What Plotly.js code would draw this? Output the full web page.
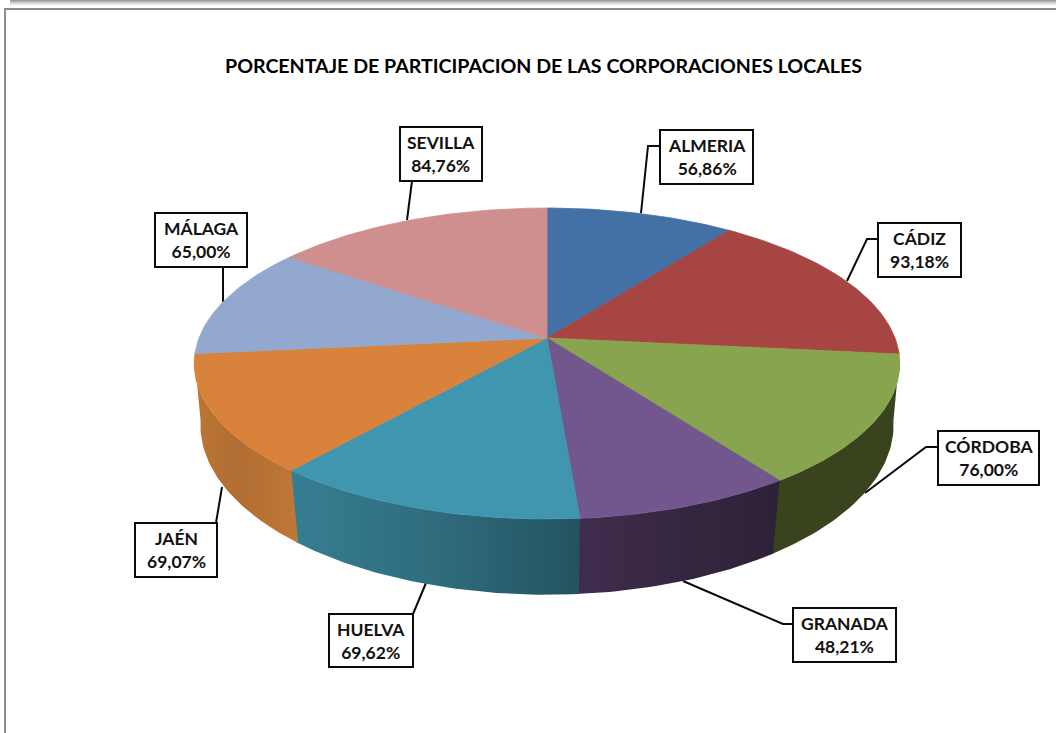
<!DOCTYPE html>
<html>
<head>
<meta charset="utf-8">
<script src="https://cdn.plot.ly/plotly-3.0.1.min.js"></script>
<style>html,body{margin:0;padding:0;background:#fff;overflow:hidden}#chart{width:1056px;height:733px}</style>
</head>
<body>
<div id="chart"></div>
<script>
// Data
const provincias = ['ALMERIA','CÁDIZ','CÓRDOBA','GRANADA','HUELVA','JAÉN','MÁLAGA','SEVILLA'];
const participacion = [56.86,93.18,76.00,48.21,69.62,69.07,65.00,84.76];
const titulo = 'PORCENTAJE DE PARTICIPACION DE LAS CORPORACIONES LOCALES';

// Styles
const topColors = ['#4471a5','#a74543','#89a44e','#71578e','#3f96ae','#d9823b','#92a8ce','#ce8f8e'];
const wallColors = [
  [[0,'#2c4463'],[1,'#2c4463']],
  [[0,'#5a2524'],[1,'#5a2524']],
  [[0,'#39441f'],[1,'#39441f']],
  [[0,'#3f2d4d'],[0.6,'#34263f'],[1,'#2c2238']],
  [[0,'#377e92'],[0.5,'#2f6c7e'],[1,'#24535f']],
  [[0,'#bb7635'],[0.45,'#b16d32'],[1,'#c07838']],
  [[0,'#93a9cf'],[1,'#93a9cf']],
  [[0,'#d19392'],[1,'#d19392']]
];

// Label box layout in screen pixels: left, top, right, bottom
const boxes = [
  [660,130,753,184],[878,223,961,277],[938,431,1039,485],[793,608,896,662],
  [329,614,413,667],[135,523,217,577],[155,213,247,267],[400,127,482,181]
];
// Leader paths in screen pixels
const leaders = [
  [[641,213],[648,146],[660,146]],
  [[847,281],[867,239],[878,239]],
  [[865,493],[926,447],[938,447]],
  [[683,581],[783,624],[793,624]],
  [[426,583],[413,614]],
  [[222,487],[216,523]],
  [[223,302],[223,267]],
  [[407,220],[412,181]]
];

// Perspective disc projection (top face and bottom rim)
const topDisc = {cx:547, cy:338, a:348, b:151.3, p:0.164};
const botDisc = {cx:547, cy:399.4, a:342.7, b:166, p:0.15};
function project(d, deg){
  const t = deg*Math.PI/180, den = 1 + d.p*Math.cos(t);
  return [d.cx + d.a*Math.sin(t)/den, d.cy - d.b*Math.cos(t)/den];
}
function arc(d, from, to){
  const pts = [], n = Math.max(2, Math.ceil(Math.abs(to-from)));
  for(let i=0;i<=n;i++) pts.push(project(d, from + (to-from)*i/n));
  return pts;
}

const total = participacion.reduce((s,v)=>s+v,0);
const spans = [];
let acc = 0;
participacion.forEach(v=>{ const a = acc/total*360; acc += v; spans.push([a, acc/total*360]); });

const traces = [];
const axisRefs = {xaxis:'x', yaxis:'y', hoverinfo:'skip', showlegend:false, mode:'lines', type:'scatter', fill:'toself'};

// Side walls (only the part facing the viewer); each runs slightly under the next one drawn
const wallFrom = 97, wallTo = 263, overlap = 0.5;
spans.forEach((s,i)=>{
  const a = Math.max(s[0],wallFrom), b = Math.min(s[1]+overlap,wallTo);
  if(b <= a) return;
  const poly = arc(topDisc,a,b).concat(arc(botDisc,b,a));
  poly.push(poly[0]);
  traces.push(Object.assign({}, axisRefs, {
    name: provincias[i]+' lateral',
    x: poly.map(p=>p[0]), y: poly.map(p=>p[1]),
    line:{width:0, color:'rgba(0,0,0,0)'},
    fillgradient:{type:'horizontal', colorscale:wallColors[i]}
  }));
});

// Top face slices
spans.forEach((s,i)=>{
  const poly = [[topDisc.cx,topDisc.cy]].concat(arc(topDisc,s[0],s[1]));
  poly.push(poly[0]);
  traces.push(Object.assign({}, axisRefs, {
    name: provincias[i],
    x: poly.map(p=>p[0]), y: poly.map(p=>p[1]),
    line:{width:0.8, color:topColors[i]},
    fillcolor: topColors[i]
  }));
});

const shapes = [];
// Window frame and shadow
const shadow = ['#9c9c9c','#b2b2b2','#c8c8c8','#dcdcdc','#ececec','#f7f7f7'];
shadow.forEach((c,i)=>shapes.push({type:'rect',xref:'x',yref:'y',x0:10,x1:1056,y0:i,y1:i+1,line:{width:0},fillcolor:c,layer:'below'}));
shapes.push({type:'rect',xref:'x',yref:'y',x0:4,x1:1056,y0:8,y1:10,line:{width:0},fillcolor:'#8c8c8c',layer:'below'});
shapes.push({type:'rect',xref:'x',yref:'y',x0:4,x1:6,y0:8,y1:733,line:{width:0},fillcolor:'#8c8c8c',layer:'below'});
// Leaders under the pie
leaders.forEach(l=>shapes.push({type:'path',xref:'x',yref:'y',layer:'below',
  path:'M'+l.map(p=>p[0]+','+p[1]).join(' L'),line:{color:'#0a0a0a',width:2}}));
// Label boxes
boxes.forEach(b=>shapes.push({type:'rect',xref:'x',yref:'y',x0:b[0],y0:b[1],x1:b[2],y1:b[3],
  line:{color:'#0a0a0a',width:2},fillcolor:'#ffffff',layer:'above'}));

const fontFace = 'Lato, "Noto Sans", sans-serif';
const annotations = provincias.map((name,i)=>({
  xref:'x',yref:'y',showarrow:false,
  x:(boxes[i][0]+boxes[i][2])/2, y:(boxes[i][1]+boxes[i][3])/2,
  xanchor:'center',yanchor:'middle',align:'center',
  text:'<b>'+name+'<br>'+participacion[i].toFixed(2).replace('.',',')+'%</b>',
  font:{family:fontFace,size:17.5,color:'#111111'}
}));

const layout = {
  width:1056,height:733,
  margin:{l:0,r:0,t:0,b:0},
  paper_bgcolor:'#ffffff',plot_bgcolor:'#ffffff',
  showlegend:false,
  title:{text:'<b>'+titulo+'</b>',x:543.5/1056,y:1-66/733,xanchor:'center',yanchor:'middle',
    font:{family:fontFace,size:19.6,color:'#000000'}},
  xaxis:{range:[0,1056],visible:false,fixedrange:true},
  yaxis:{range:[733,0],visible:false,fixedrange:true},
  shapes:shapes,
  annotations:annotations
};
Plotly.newPlot('chart',traces,layout,{displayModeBar:false,staticPlot:true});
</script>
</body>
</html>
